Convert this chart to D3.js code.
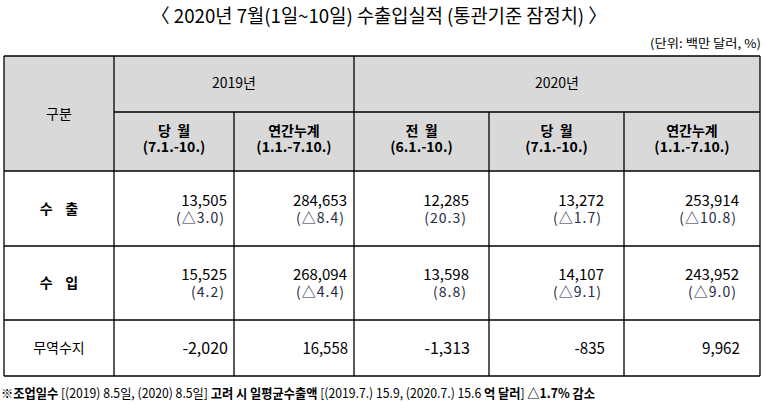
<!DOCTYPE html>
<html>
<head>
<meta charset="utf-8">
<script src="https://cdn.jsdelivr.net/npm/d3@7"></script>
<style>
  body { margin: 0; background: #fff; }
  text { font-family: "Noto Sans CJK KR", "Noto Sans", sans-serif; }
</style>
</head>
<body>
<div id="TradeTable"></div>
<script>
// data
var rowLabels = ["수  출", "수  입", "무역수지"];
var yearLabels = ["2019년", "2020년"];
var colTitles = ["당  월", "연간누계", "전  월", "당  월", "연간누계"];
var colPeriods = ["(7.1.-10.)", "(1.1.-7.10.)", "(6.1.-10.)", "(7.1.-10.)", "(1.1.-7.10.)"];
var exportValues = [13505, 284653, 12285, 13272, 253914];
var exportRates = ["△3.0", "△8.4", "20.3", "△1.7", "△10.8"];
var importValues = [15525, 268094, 13598, 14107, 243952];
var importRates = ["4.2", "△4.4", "8.8", "△9.1", "△9.0"];
var balanceValues = [-2020, 16558, -1313, -835, 9962];

var width = 766, height = 404;

var svg = d3.select("#TradeTable").append("svg")
  .attr("width", width)
  .attr("height", height);

// column edges
var edges = [4, 114, 234, 354, 489, 624, 760];
var rowEdges = [56, 112, 171, 246, 320, 376];
var pads = [7, 7, 20, 20, 21];

var fmt = d3.format(",");
function numText(v) { return fmt(v).replace("−", "-"); }

// title
svg.append("text")
  .attr("x", 379).attr("y", 23)
  .attr("text-anchor", "middle")
  .attr("textLength", 456).attr("lengthAdjust", "spacingAndGlyphs")
  .style("font-size", "19px")
  .style("fill", "#000")
  .text("〈 2020년 7월(1일~10일) 수출입실적 (통관기준 잠정치) 〉");

svg.append("text")
  .attr("x", 761).attr("y", 48)
  .attr("text-anchor", "end")
  .attr("textLength", 111).attr("lengthAdjust", "spacingAndGlyphs")
  .style("font-size", "12px")
  .text("(단위: 백만 달러, %)");

// header background
svg.append("rect")
  .attr("x", edges[0]).attr("y", rowEdges[0])
  .attr("width", edges[6] - edges[0]).attr("height", rowEdges[2] - rowEdges[0])
  .attr("fill", "#d9d9d9");

// header text
svg.append("text")
  .attr("x", (edges[0] + edges[1]) / 2).attr("y", 119)
  .attr("text-anchor", "middle")
  .style("font-size", "14px")
  .text("구분");

yearLabels.forEach(function(y, i) {
  var x0 = i == 0 ? edges[1] : edges[3];
  var x1 = i == 0 ? edges[3] : edges[6];
  svg.append("text")
    .attr("x", (x0 + x1) / 2).attr("y", 88)
    .attr("text-anchor", "middle")
    .style("font-size", "14px")
    .text(y);
});

colTitles.forEach(function(t, i) {
  var cx = (edges[i + 1] + edges[i + 2]) / 2;
  svg.append("text")
    .attr("x", cx).attr("y", 136)
    .attr("text-anchor", "middle")
    .style("font-size", "14px")
    .style("font-weight", "bold")
    .style("white-space", "pre")
    .text(t);
  svg.append("text")
    .attr("x", cx).attr("y", 152)
    .attr("text-anchor", "middle")
    .style("font-size", "14px")
    .style("font-weight", "bold")
    .text(colPeriods[i]);
});

// body rows
var bodyRows = [
  {label: rowLabels[0], values: exportValues, rates: exportRates},
  {label: rowLabels[1], values: importValues, rates: importRates}
];

bodyRows.forEach(function(r, ri) {
  var top = rowEdges[2 + ri], bot = rowEdges[3 + ri];
  var mid = (top + bot) / 2;
  svg.append("text")
    .attr("x", (edges[0] + edges[1]) / 2).attr("y", mid + 5)
    .attr("text-anchor", "middle")
    .style("font-size", "14px")
    .style("font-weight", "bold")
    .style("white-space", "pre")
    .text(r.label.replace("  ", "    "));
  r.values.forEach(function(v, i) {
    var xr = edges[i + 2] - pads[i];
    svg.append("text")
      .attr("x", xr).attr("y", mid - 3)
      .attr("text-anchor", "end")
      .style("font-size", "15px")
      .style("fill", "#000")
      .text(numText(v));
    svg.append("text")
      .attr("x", xr - 2).attr("y", mid + 14)
      .attr("text-anchor", "end")
      .style("font-size", "14px")
      .style("letter-spacing", "1px")
      .style("fill", "#1f2a44")
      .text("(" + r.rates[i] + ")");
  });
});

// balance row
var bTop = rowEdges[4], bBot = rowEdges[5], bMid = (bTop + bBot) / 2;
svg.append("text")
  .attr("x", (edges[0] + edges[1]) / 2).attr("y", bMid + 5)
  .attr("text-anchor", "middle")
  .style("font-size", "14px")
  .text(rowLabels[2]);

balanceValues.forEach(function(v, i) {
  var s = numText(v);
  svg.append("text")
    .attr("x", edges[i + 2] - pads[i] + 1).attr("y", bMid + 6)
    .attr("text-anchor", "end")
    .attr("textLength", s.length * 7.6).attr("lengthAdjust", "spacingAndGlyphs")
    .style("font-size", "16px")
    .text(s);
});

// grid lines
var lines = svg.append("g").attr("stroke", "#000").attr("stroke-width", 1.3);
rowEdges.forEach(function(y, i) {
  var x0 = i == 1 ? edges[1] : edges[0];
  lines.append("line").attr("x1", x0).attr("x2", edges[6]).attr("y1", y).attr("y2", y);
});
edges.forEach(function(x, i) {
  var y0 = (i == 2 || i == 4 || i == 5) ? rowEdges[1] : rowEdges[0];
  lines.append("line").attr("x1", x).attr("x2", x).attr("y1", y0).attr("y2", rowEdges[5]);
});

// footnote
var foot = svg.append("text")
  .attr("x", 1).attr("y", 398)
  .attr("textLength", 594).attr("lengthAdjust", "spacingAndGlyphs")
  .style("font-size", "13px");
var parts = [
  ["※", false], ["조업일수", true], [" [(2019) 8.5일, (2020) 8.5일] ", false],
  ["고려 시 일평균수출액", true], [" [(2019.7.) 15.9, (2020.7.) 15.6 ", false],
  ["억 달러", true], ["] ", false], ["△1.7% 감소", true]
];
parts.forEach(function(p) {
  foot.append("tspan").style("font-weight", p[1] ? "bold" : "normal").text(p[0]);
});
</script>
</body>
</html>
